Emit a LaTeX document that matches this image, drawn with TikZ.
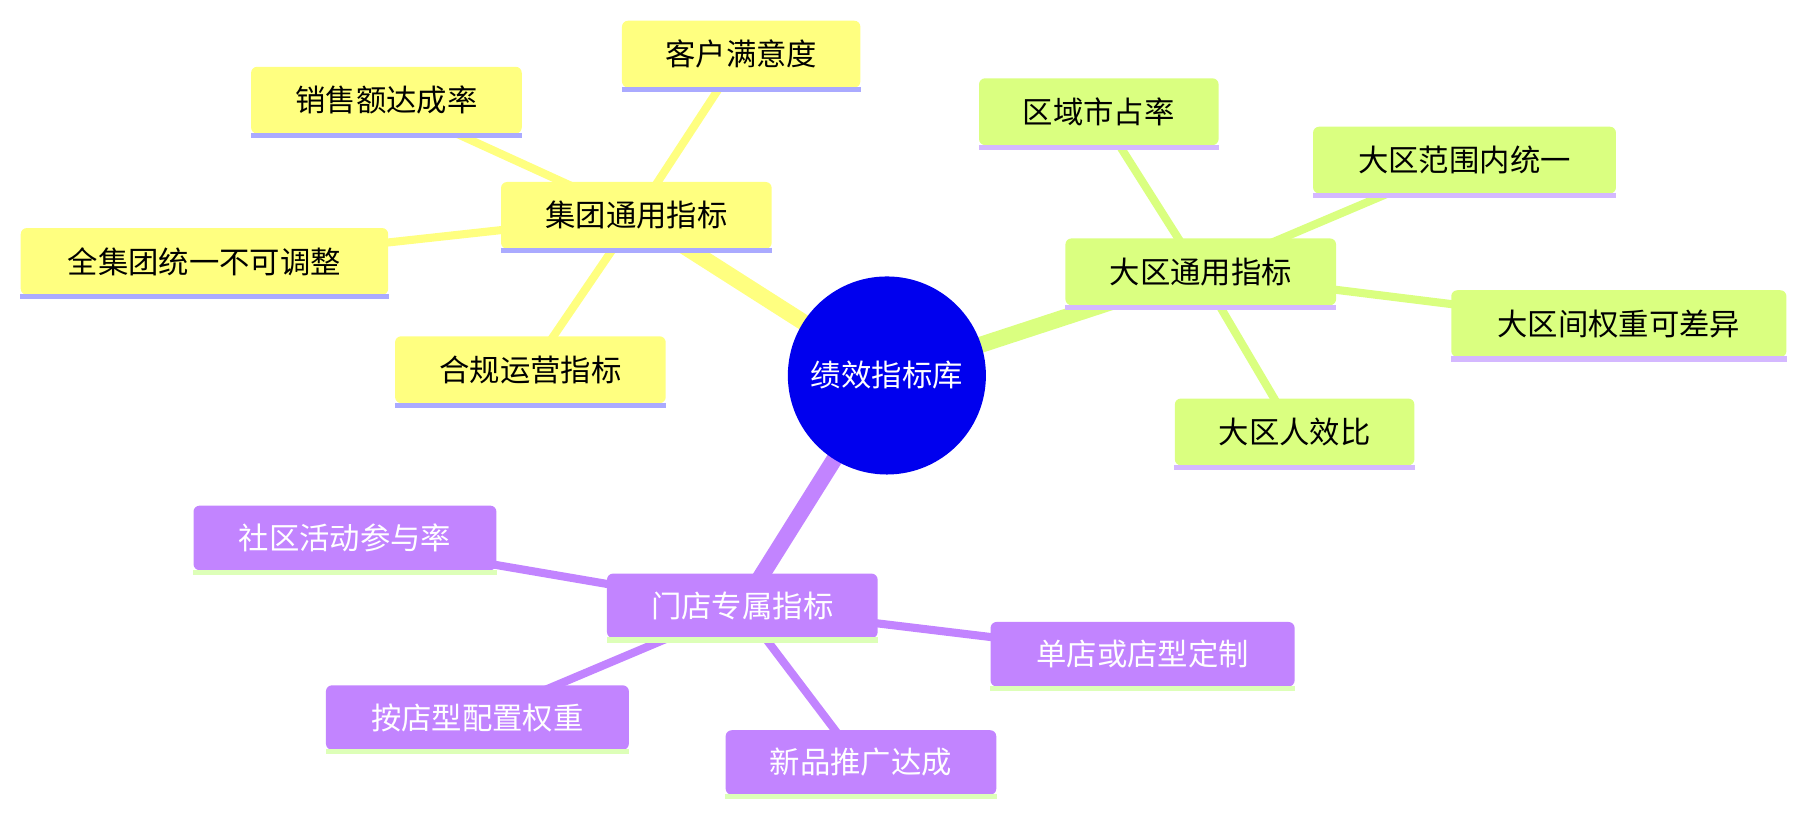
\documentclass[tikz,border=0pt]{standalone}
\usepackage{fontspec}
\setmainfont{Noto Sans CJK SC}
\definecolor{yb}{HTML}{FFFF80}
\definecolor{gb}{HTML}{DAFF80}
\definecolor{pb}{HTML}{C284FF}
\definecolor{yu}{HTML}{AAAAFF}
\definecolor{gu}{HTML}{D4B8FF}
\definecolor{pu}{HTML}{DDFFB8}
\definecolor{cb}{HTML}{0000EE}
\tikzset{
  box/.style={rounded corners=3pt,inner sep=0pt,font=\fontsize{15}{18}\selectfont},
  yn/.style={box,fill=yb,text=black},
  gn/.style={box,fill=gb,text=black},
  pn/.style={box,fill=pb,text=white},
  mainedge/.style={line width=8pt},
  leafedge/.style={line width=4pt},
}
\newcommand{\bx}[7]{% style name x1 y1 x2 y2 text
  \node[#1,minimum width={(#5-#3)*0.02cm},minimum height={(#6-#4)*0.02cm}] (#2) at ({(#3+#5)/2},{(#4+#6)/2}) {#7};}
\newcommand{\ul}[2]{\fill[#2] ([yshift=0.5pt]#1.south west) rectangle ([yshift=-2pt]#1.south east);}
\begin{document}
\begin{tikzpicture}[x=0.02cm,y=-0.02cm]
\useasboundingbox (0,0) rectangle (1568,709);
\coordinate (c) at (770,326);
\coordinate (ja) at (552,187);
\coordinate (da) at (1042,237);
\coordinate (ma) at (644,527);
% leaf centers
\coordinate (j1) at (643,48);\coordinate (j2) at (335,88);\coordinate (j3) at (177,228);\coordinate (j4) at (460,322);
\coordinate (d1) at (954,98);\coordinate (d2) at (1271,140);\coordinate (d3) at (1405,282);\coordinate (d4) at (1124,376);
\coordinate (m1) at (299,468);\coordinate (m2) at (992,569);\coordinate (m3) at (414,624);\coordinate (m4) at (747,663);
\draw[yb,mainedge] (c)--(ja);
\draw[gb,mainedge] (c)--(da);
\draw[pb,mainedge] (c)--(ma);
\foreach \l in {j1,j2,j3,j4} \draw[yb,leafedge] (ja)--(\l);
\foreach \l in {d1,d2,d3,d4} \draw[gb,leafedge] (da)--(\l);
\foreach \l in {m1,m2,m3,m4} \draw[pb,leafedge] (ma)--(\l);
\node[circle,fill=cb,text=white,minimum size=3.44cm,inner sep=0pt,font=\fontsize{15}{18}\selectfont] (center) at (c) {绩效指标库};
\bx{yn}{JT}{435}{158}{670}{216}{集团通用指标}\ul{JT}{yu}
\bx{yn}{KH}{540}{18}{747}{76}{客户满意度}\ul{KH}{yu}
\bx{yn}{XS}{218}{58}{453}{116}{销售额达成率}\ul{XS}{yu}
\bx{yn}{QJ}{18}{198}{337}{256}{全集团统一不可调整}\ul{QJ}{yu}
\bx{yn}{HG}{343}{292}{578}{350}{合规运营指标}\ul{HG}{yu}
\bx{gn}{DQ}{925}{207}{1160}{265}{大区通用指标}\ul{DQ}{gu}
\bx{gn}{QY}{850}{68}{1058}{126}{区域市占率}\ul{QY}{gu}
\bx{gn}{FW}{1140}{110}{1403}{168}{大区范围内统一}\ul{FW}{gu}
\bx{gn}{QZ}{1260}{252}{1551}{310}{大区间权重可差异}\ul{QZ}{gu}
\bx{gn}{RX}{1020}{346}{1228}{404}{大区人效比}\ul{RX}{gu}
\bx{pn}{MD}{527}{498}{762}{554}{门店专属指标}\ul{MD}{pu}
\bx{pn}{SQ}{168}{439}{431}{495}{社区活动参与率}\ul{SQ}{pu}
\bx{pn}{DD}{860}{540}{1124}{596}{单店或店型定制}\ul{DD}{pu}
\bx{pn}{AD}{283}{595}{546}{651}{按店型配置权重}\ul{AD}{pu}
\bx{pn}{XP}{630}{634}{865}{690}{新品推广达成}\ul{XP}{pu}
\end{tikzpicture}
\end{document}
